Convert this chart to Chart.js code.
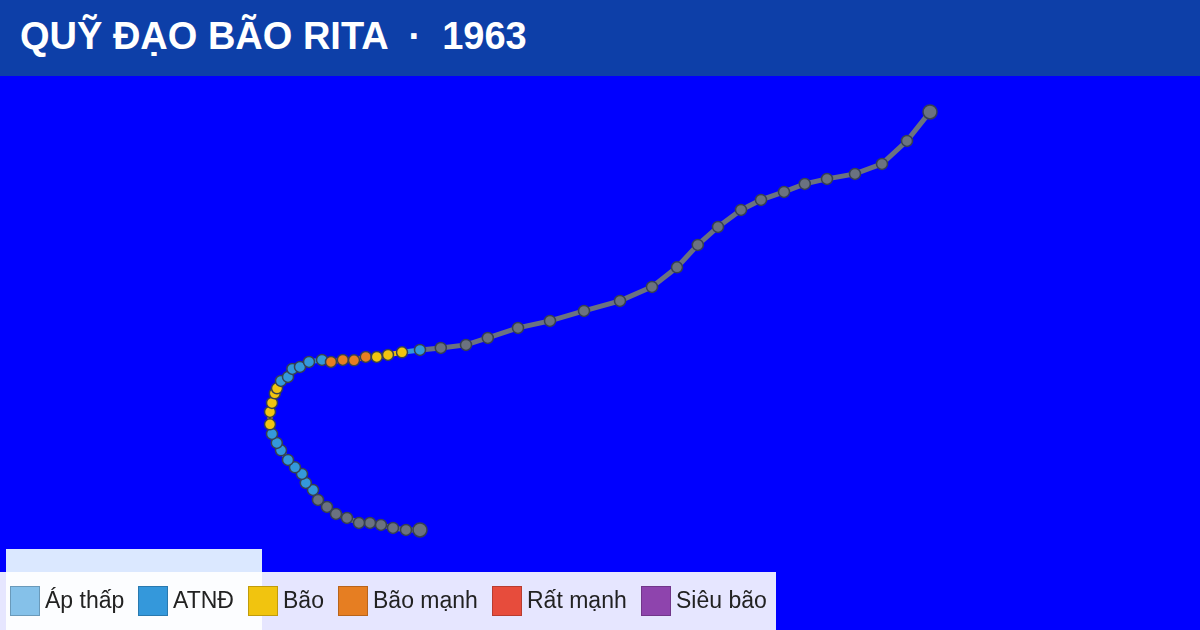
<!DOCTYPE html>
<html lang="vi">
<head>
<meta charset="utf-8">
<title>Quỹ đạo bão Rita 1963</title>
<script src="https://cdn.jsdelivr.net/npm/chart.js@4/dist/chart.umd.min.js"></script>
<style>
  html, body { margin: 0; padding: 0; width: 1200px; height: 630px; overflow: hidden; background: #0000ff; }
  body { position: relative; font-family: "Liberation Sans", Arial, sans-serif; }
  #header {
    position: absolute; left: 0; top: 0; width: 1200px; height: 76px;
    background: #0d3fa8; color: #fff; font-size: 38px; font-weight: 700;
    line-height: 72px; padding-left: 20px; box-sizing: border-box; white-space: pre;
  }
  #wrap { position: absolute; left: 0; top: 76px; width: 1200px; height: 554px; }
  #note { position: absolute; left: 6px; top: 549px; width: 256px; height: 81px; background: #dbe8ff; }
  #legend {
    position: absolute; left: 0; top: 572px; height: 58px; width: 776px;
    background: rgba(255, 255, 255, 0.9); color: #222;
    font-size: 23px; white-space: nowrap;
  }
  #legend .sw {
    position: absolute; top: 14px; width: 28px; height: 28px;
    border: 1px solid rgba(0, 0, 0, 0.2); background-clip: border-box;
  }
  #legend .lb { position: absolute; top: 14px; line-height: 28px; }
</style>
</head>
<body>
<div id="header">QUỸ ĐẠO BÃO RITA  ·  1963</div>
<div id="wrap"><canvas id="track" width="1200" height="554"></canvas></div>
<div id="note"></div>
<div id="legend"></div>
<script>
// cấp bão: nhãn chú giải + màu
const gradeLabels = ['Áp thấp', 'ATNĐ', 'Bão', 'Bão mạnh', 'Rất mạnh', 'Siêu bão'];
const gradeColors = ['#85c1e9', '#3498db', '#f1c40f', '#e67e22', '#e74c3c', '#8e44ad'];
const legendX = [10, 138, 248, 338, 492, 641];
const noGrade = '#6b7280';

// vị trí tâm bão theo thời gian (ước lượng từ hình)
const lons = [121.00, 120.30, 119.65, 119.05, 118.50, 117.95, 117.35, 116.80, 116.35, 115.90,
  115.65, 115.29, 115.10, 114.75, 114.40, 114.05, 113.84, 113.60, 113.50, 113.50,
  113.60, 113.74, 113.85, 114.05, 114.40, 114.62, 115.00, 115.45, 116.10, 116.55,
  117.14, 117.70, 118.29, 118.84, 119.40, 120.10, 121.00, 122.04, 123.30, 124.39,
  125.90, 127.50, 129.20, 131.00, 132.60, 133.85, 134.89, 135.90, 137.05, 138.05,
  139.20, 140.24, 141.35, 142.75, 144.10, 145.35, 146.50];
const lats = [5.02, 5.02, 5.12, 5.27, 5.37, 5.37, 5.62, 5.82, 6.17, 6.52,
  7.02, 7.37, 7.82, 8.15, 8.52, 9.00, 9.37, 9.82, 10.30, 10.92,
  11.37, 11.85, 12.10, 12.47, 12.67, 13.07, 13.17, 13.42, 13.52, 13.42,
  13.52, 13.50, 13.67, 13.67, 13.77, 13.90, 14.02, 14.12, 14.27, 14.62,
  15.12, 15.47, 15.97, 16.47, 17.17, 18.15, 19.27, 20.17, 21.02, 21.52,
  21.92, 22.32, 22.57, 22.82, 23.32, 24.47, 25.92];
// -1 = không rõ cấp (xám)
const grades = [-1, -1, -1, -1, -1, -1, -1, -1, -1, -1,
  1, 1, 1, 1, 1, 1, 1, 1, 2, 2,
  2, 2, 2, 1, 1, 1, 1, 1, 1, 3,
  3, 3, 3, 2, 2, 2, 1, -1, -1, -1,
  -1, -1, -1, -1, -1, -1, -1, -1, -1, -1,
  -1, -1, -1, -1, -1, -1, -1];

const colorAt = i => grades[i] < 0 ? noGrade : gradeColors[grades[i]];
const lastIdx = lons.length - 1;

new Chart(document.getElementById('track'), {
  type: 'line',
  data: {
    datasets: [{
      data: lons.map((lon, i) => ({ x: lon, y: lats[i] })),
      borderWidth: 5,
      borderColor: noGrade,
      tension: 0,
      segment: { borderColor: ctx => colorAt(ctx.p1DataIndex) },
      pointRadius: ctx => (ctx.dataIndex === 0 || ctx.dataIndex === lastIdx) ? 7 : 5.5,
      pointBorderWidth: 1.5,
      pointBorderColor: '#374151',
      pointBackgroundColor: ctx => colorAt(ctx.dataIndex),
    }]
  },
  options: {
    responsive: false,
    animation: false,
    layout: { padding: 0, autoPadding: false },
    plugins: { legend: { display: false }, tooltip: { enabled: false } },
    scales: {
      x: { type: 'linear', min: 100, max: 160, display: false },
      y: { type: 'linear', min: 0.015, max: 27.715, display: false },
    },
  }
});

const legend = document.getElementById('legend');
gradeLabels.forEach((label, i) => {
  const sw = document.createElement('span');
  sw.className = 'sw';
  sw.style.left = legendX[i] + 'px';
  sw.style.backgroundColor = gradeColors[i];
  const lb = document.createElement('span');
  lb.className = 'lb';
  lb.style.left = (legendX[i] + 35) + 'px';
  lb.textContent = label;
  legend.append(sw, lb);
});
</script>
</body>
</html>
